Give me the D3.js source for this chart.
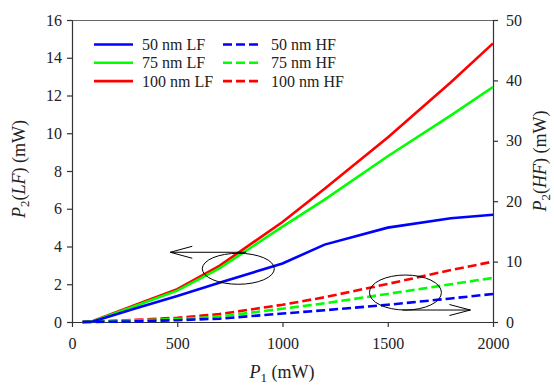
<!DOCTYPE html>
<html>
<head>
<meta charset="utf-8">
<script src="https://cdn.jsdelivr.net/npm/d3@7"></script>
<style>
  body { margin: 0; background: #fff; }
  svg { font-family: "Liberation Serif", "Times New Roman", serif; }
</style>
</head>
<body>
<div id="chart"></div>
<script>
// pump power P1 (mW)
const p1 = [50, 100, 300, 500, 700, 1000, 1200, 1500, 1800, 2000];

// P2(LF), left axis (mW)
const lf50 = [0, 0.03, 0.72, 1.38, 2.08, 3.1, 4.1, 5.0, 5.5, 5.68];
const lf75 = [0, 0.04, 0.85, 1.66, 2.84, 5.05, 6.48, 8.78, 10.95, 12.45];
const lf100 = [0, 0.05, 0.9, 1.74, 2.97, 5.3, 7.06, 9.78, 12.7, 14.76];

// P2(HF), right axis (mW)
const hf50 = [0, 0.02, 0.1, 0.3, 0.55, 1.4, 1.95, 2.85, 3.9, 4.64];
const hf75 = [0, 0.03, 0.25, 0.5, 0.9, 2.2, 3.1, 4.65, 6.25, 7.3];
const hf100 = [0, 0.05, 0.35, 0.7, 1.3, 2.85, 4.1, 6.3, 8.6, 10.0];

const xTicks = [0, 500, 1000, 1500, 2000];
const yLeftTicks = [0, 2, 4, 6, 8, 10, 12, 14, 16];
const yRightTicks = [0, 10, 20, 30, 40, 50];

const series = [
  { name: "50 nm LF", values: lf50, color: "#0000ff", axis: "left", dash: null },
  { name: "75 nm LF", values: lf75, color: "#00ff00", axis: "left", dash: null },
  { name: "100 nm LF", values: lf100, color: "#ff0000", axis: "left", dash: null },
  { name: "50 nm HF", values: hf50, color: "#0000ff", axis: "right", dash: "9,4" },
  { name: "75 nm HF", values: hf75, color: "#00ff00", axis: "right", dash: "9,4" },
  { name: "100 nm HF", values: hf100, color: "#ff0000", axis: "right", dash: "9,4" },
];

// circled groups with arrows pointing at their axis: [P1, value, rx, ry]
const ringLF = [790, 2.82, 36, 15.5];
const ringHF = [1584, 4.88, 36, 17.5];

const width = 554;
const height = 385;
const margin = { top: 20, right: 61, bottom: 63, left: 72 };

const svg = d3
  .select("#chart")
  .append("svg")
  .attr("width", width)
  .attr("height", height);

const x = d3.scaleLinear().domain([0, 2000]).range([margin.left, width - margin.right]);
const yL = d3.scaleLinear().domain([0, 16]).range([height - margin.bottom, margin.top]);
const yR = d3.scaleLinear().domain([0, 50]).range([height - margin.bottom, margin.top]);

// top frame line
svg
  .append("line")
  .attr("x1", x(0))
  .attr("x2", x(2000))
  .attr("y1", margin.top + 0.5)
  .attr("y2", margin.top + 0.5)
  .attr("stroke", "#666")
  .attr("stroke-width", 1.2);

const styleAxis = (g) => {
  g.attr("font-family", null).attr("font-size", null);
  g.selectAll("path, line").attr("stroke", "#333").attr("stroke-width", 1.2);
  g.selectAll("text").attr("font-size", 16).attr("fill", "#222");
};
const fmt = d3.format("d");

svg
  .append("g")
  .attr("transform", `translate(0,${height - margin.bottom})`)
  .call(d3.axisBottom(x).tickValues(xTicks).tickFormat(fmt).tickSize(5).tickPadding(10.5).tickSizeOuter(0))
  .call(styleAxis);

svg
  .append("g")
  .attr("transform", `translate(${margin.left},0)`)
  .call(d3.axisLeft(yL).tickValues(yLeftTicks).tickFormat(fmt).tickSize(5).tickPadding(5).tickSizeOuter(0))
  .call(styleAxis);

svg
  .append("g")
  .attr("transform", `translate(${width - margin.right},0)`)
  .call(d3.axisRight(yR).tickValues(yRightTicks).tickFormat(fmt).tickSize(5).tickPadding(8).tickSizeOuter(0))
  .call(styleAxis);

// curves
const line = (yScale) =>
  d3
    .line()
    .x((d, i) => x(p1[i]))
    .y((d) => yScale(d));

svg
  .append("g")
  .attr("fill", "none")
  .attr("stroke-width", 2.6)
  .selectAll("path")
  .data(series.slice().reverse())
  .join("path")
  .attr("stroke", (d) => d.color)
  .attr("stroke-dasharray", (d) => d.dash)
  .attr("d", (d) => line(d.axis === "left" ? yL : yR)(d.values));

// ellipses + arrows
const annot = svg.append("g").attr("fill", "none").attr("stroke", "#000").attr("stroke-width", 1);

function ring([px, v, rx, ry], yScale) {
  annot
    .append("ellipse")
    .attr("cx", x(px))
    .attr("cy", yScale(v))
    .attr("rx", rx)
    .attr("ry", ry);
}
ring(ringLF, yL);
ring(ringHF, yR);

// LF arrow: from top of ring, pointing left
{
  const cx = x(ringLF[0]);
  const ay = yL(ringLF[1]) - ringLF[3] - 1;
  const tip = cx - 68;
  annot.append("path").attr("d", `M${cx + 8},${ay}H${tip}M${tip + 22},${ay - 6}L${tip},${ay}L${tip + 22},${ay + 6}`);
}
// HF arrow: from bottom of ring, pointing right
{
  const cx = x(ringHF[0]);
  const ay = yR(ringHF[1]) + ringHF[3];
  const tip = cx + 65;
  annot.append("path").attr("d", `M${cx - 3},${ay}H${tip}M${tip - 21},${ay - 5.5}L${tip},${ay}L${tip - 21},${ay + 5.5}`);
}

// legend
const legend = svg.append("g");
series.forEach((s, i) => {
  const col = Math.floor(i / 3);
  const row = i % 3;
  const lx = 94 + col * 129;
  const ly = 44.5 + row * 18.3;
  legend
    .append("line")
    .attr("x1", lx)
    .attr("x2", lx + 39)
    .attr("y1", ly)
    .attr("y2", ly)
    .attr("stroke", s.color)
    .attr("stroke-width", 2.6)
    .attr("stroke-dasharray", s.dash);
  legend
    .append("text")
    .attr("x", lx + 48)
    .attr("y", ly + 5.5)
    .attr("font-size", 16)
    .attr("fill", "#222")
    .text(s.name);
});

// axis titles
function title(g, main, sub, rest) {
  g.append("tspan").attr("font-style", "italic").text(main);
  g.append("tspan").attr("font-size", 13).attr("dy", 4).text(sub);
  if (rest.paren) {
    g.append("tspan").attr("dy", -4).text("(");
    g.append("tspan").attr("font-style", "italic").text(rest.paren);
    g.append("tspan").text(") (mW)");
  } else {
    g.append("tspan").attr("dy", -4).text(" (mW)");
  }
}

const xt = svg
  .append("text")
  .attr("x", 282)
  .attr("y", 378)
  .attr("text-anchor", "middle")
  .attr("font-size", 18)
  .attr("fill", "#222");
title(xt, "P", "1", {});

const ylt = svg
  .append("text")
  .attr("transform", "translate(25,169) rotate(-90)")
  .attr("text-anchor", "middle")
  .attr("font-size", 18)
  .attr("fill", "#222");
title(ylt, "P", "2", { paren: "LF" });

const yrt = svg
  .append("text")
  .attr("transform", "translate(546,161) rotate(-90)")
  .attr("text-anchor", "middle")
  .attr("font-size", 18)
  .attr("fill", "#222");
title(yrt, "P", "2", { paren: "HF" });
</script>
</body>
</html>
